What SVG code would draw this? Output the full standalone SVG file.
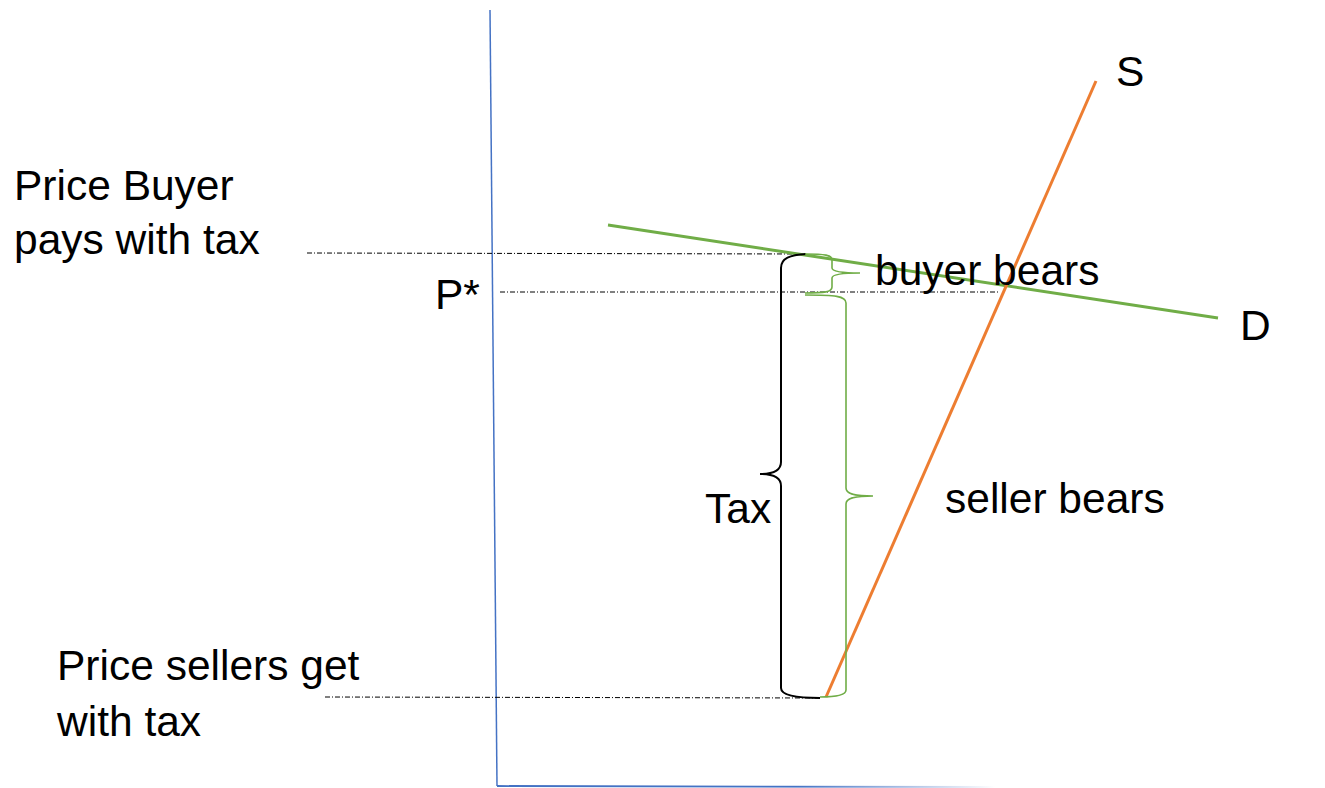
<svg xmlns="http://www.w3.org/2000/svg" width="1325" height="788" viewBox="0 0 1325 788">
<style>
text{font-family:"Liberation Sans",Arial,sans-serif;font-size:42.5px;fill:#000}
.guide{stroke:#000;stroke-width:1;stroke-dasharray:5 2 1 2;fill:none}
.brace-b{stroke:#000;stroke-width:2;fill:none}
.brace-g{stroke:#70AD47;stroke-width:1.6;fill:none}
</style>
<defs>
<linearGradient id="fade" x1="497" y1="0" x2="995" y2="0" gradientUnits="userSpaceOnUse">
<stop offset="0" stop-color="#4472C4"/>
<stop offset="0.6" stop-color="#4472C4"/>
<stop offset="1" stop-color="#4472C4" stop-opacity="0"/>
</linearGradient>
</defs>
<rect width="1325" height="788" fill="#fff"/>
<g id="axes">
<line x1="490" y1="10" x2="497" y2="786" stroke="#4472C4" stroke-width="1.5"/>
<line x1="497" y1="786" x2="995" y2="787" stroke="url(#fade)" stroke-width="1.8"/>
</g>
<g id="connectors">
<line class="guide" x1="307" y1="253" x2="806" y2="254"/>
<line class="guide" x1="500" y1="292" x2="1000" y2="292"/>
<line class="guide" x1="325" y1="697" x2="820" y2="698"/>
</g>
<g id="demand">
<line x1="608" y1="225" x2="1218" y2="318" stroke="#70AD47" stroke-width="3"/>
<text x="1240" y="340">D</text>
</g>
<g id="supply">
<line x1="1096" y1="81" x2="826" y2="697" stroke="#ED7D31" stroke-width="3"/>
<text x="1116" y="86">S</text>
</g>
<g id="tax-brace">
<path class="brace-b" d="M806 254 C790 255 781 258 781 268 L781 462 C781 470 775 474 760 474 C775 474 781 478 781 486 L781 688 C781 696 800 698 820 698"/>
<text x="705" y="523">Tax</text>
</g>
<g id="buyer-brace">
<path class="brace-g" d="M805 254 C825 254 832 255 832 260 L832 268 C832 271 840 273 860 273 C840 273 832 275 832 278 L832 287 C832 292 825 293 805 293"/>
<text x="875" y="285">buyer bears</text>
</g>
<g id="seller-brace">
<path class="brace-g" d="M805 295 C835 295 846 296 846 303 L846 488 C846 493 852 496 873 496 C852 496 846 499 846 504 L846 690 C846 695 835 697 820 697"/>
<text x="945" y="513">seller bears</text>
</g>
<g id="label-buyer-price">
<text x="14" y="200">Price Buyer</text>
<text x="14" y="254">pays with tax</text>
</g>
<g id="label-pstar">
<text x="435" y="309">P*</text>
</g>
<g id="label-seller-price">
<text x="57" y="680">Price sellers get</text>
<text x="57" y="736">with tax</text>
</g>
</svg>
